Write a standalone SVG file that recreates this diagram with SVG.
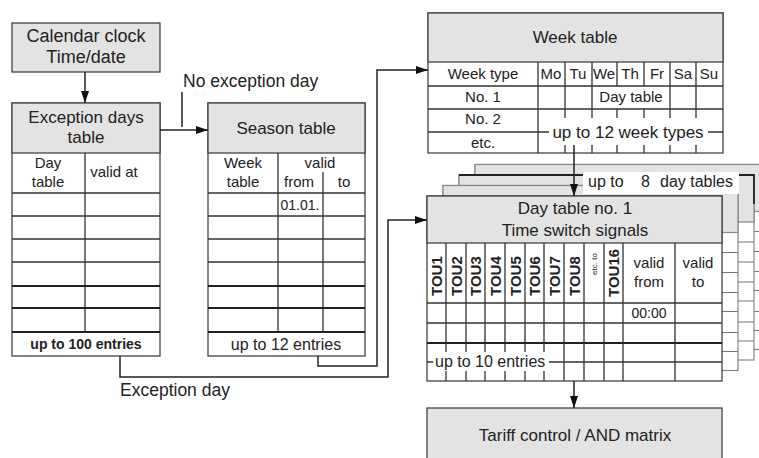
<svg xmlns="http://www.w3.org/2000/svg" width="759" height="458" viewBox="0 0 759 458">
<style>
.hd{fill:#e3e3e3;stroke:#444;stroke-width:1.3}
.bd{fill:#fff;stroke:#444;stroke-width:1.3}
.ln{stroke:#333;stroke-width:1.3;fill:none}
.thk{stroke:#222;stroke-width:1.8;fill:none}
.bk{fill:#fff;stroke:#888;stroke-width:1.2}
.bkh{fill:#e3e3e3;stroke:#888;stroke-width:1.2}
.bkl{stroke:#777;stroke-width:1.2;fill:none}
.conn{stroke:#222;stroke-width:1.5;fill:none}
text{font-family:"Liberation Sans",Arial,sans-serif;fill:#222}
.c{text-anchor:middle}
.h{font-size:17px}
.s{font-size:15px}
.tou{font-size:15px;font-weight:bold}
</style>
<defs>
<marker id="ar" markerWidth="12" markerHeight="8" refX="12" refY="4" orient="auto" markerUnits="userSpaceOnUse">
<path d="M0,0 L12,4 L0,8 Z" fill="#111"/>
</marker>
</defs>

<g id="calendar-clock">
<rect class="hd" x="12" y="23" width="148" height="49"/>
<text class="c" x="86" y="42" font-size="18">Calendar clock</text>
<text class="c" x="86" y="63" font-size="18">Time/date</text>
</g>

<g id="exception-days-table">
<rect class="bd" x="12" y="103" width="148" height="253"/>
<rect class="hd" x="12" y="103" width="148" height="50"/>
<text class="c h" x="86" y="123">Exception days</text>
<text class="c h" x="86" y="143">table</text>
<path class="ln" d="M85,153V332M12,193H160M12,216H160M12,239H160M12,262H160"/>
<path class="thk" d="M12,286H160M12,308H160M12,332H160"/>
<text class="c s" x="48" y="168">Day</text>
<text class="c s" x="48" y="187">table</text>
<text class="c s" x="114" y="177">valid at</text>
<text class="c" x="86" y="349" font-size="14" font-weight="bold">up to 100 entries</text>
</g>

<g id="season-table">
<rect class="bd" x="208" y="103" width="157" height="253"/>
<rect class="hd" x="208" y="103" width="157" height="50"/>
<text class="c h" x="286" y="134">Season table</text>
<path class="ln" d="M278,153V332M323,172V332M208,193H365M208,216H365M208,239H365M208,262H365"/>
<path class="thk" d="M208,286H365M208,308H365M208,332H365"/>
<text class="c s" x="243" y="168">Week</text>
<text class="c s" x="243" y="187">table</text>
<text class="c s" x="320" y="168">valid</text>
<text class="c s" x="299" y="187">from</text>
<text class="c s" x="344" y="187">to</text>
<text class="c" x="300" y="210" font-size="14">01.01.</text>
<text class="c" x="286" y="350" font-size="16">up to 12 entries</text>
</g>

<g id="week-table">
<rect class="bd" x="428" y="13" width="295" height="140"/>
<rect class="hd" x="428" y="13" width="295" height="49"/>
<text class="c h" x="575" y="43">Week table</text>
<path class="ln" d="M428,86H723M428,109H723M428,132H549M708,132H723"/>
<path class="ln" d="M538,62V153M565,62V109M592,62V109M617,62V86M644,62V86M670,62V109M696,62V109"/>
<path class="ln" d="M565,109V118M592,109V118M617,109V118M644,109V118M670,109V118M696,109V118"/>
<path class="ln" d="M565,145V153M592,145V153M617,145V153M644,145V153M670,145V153M696,145V153"/>
<text class="c s" x="483" y="79">Week type</text>
<text class="c s" x="551" y="79">Mo</text>
<text class="c s" x="578" y="79">Tu</text>
<text class="c s" x="604" y="79">We</text>
<text class="c s" x="630" y="79">Th</text>
<text class="c s" x="657" y="79">Fr</text>
<text class="c s" x="683" y="79">Sa</text>
<text class="c s" x="709" y="79">Su</text>
<text class="c s" x="483" y="102">No. 1</text>
<text class="c s" x="631" y="102">Day table</text>
<text class="c s" x="483" y="124">No. 2</text>
<text class="c s" x="483" y="148">etc.</text>
<text class="c h" x="628" y="138">up to 12 week types</text>
</g>

<g id="day-tables-stack">
<g transform="translate(48,-31.5)">
<rect class="bk" x="427" y="196" width="295" height="185"/>
<rect class="bkh" x="427" y="196" width="295" height="47"/>
<path class="bkl" d="M675,243V381M623,243V381M675,263H722M675,283H722M675,303H722M675,322H722M675,343H722M675,362H722"/>
</g>
<g transform="translate(32,-21)">
<rect class="bk" x="427" y="196" width="295" height="185"/>
<rect class="bkh" x="427" y="196" width="295" height="47"/>
<path class="bkl" d="M675,243V381M623,243V381M675,263H722M675,283H722M675,303H722M675,322H722M675,343H722M675,362H722"/>
<path class="thk" d="M427,196H722V225"/>
</g>
<g transform="translate(16,-10.5)">
<rect class="bk" x="427" y="196" width="295" height="185"/>
<rect class="bkh" x="427" y="196" width="295" height="47"/>
<path class="bkl" d="M675,243V381M623,243V381M675,263H722M675,283H722M675,303H722M675,322H722M675,343H722M675,362H722"/>
</g>
<rect x="583" y="172" width="156" height="22" fill="#fff"/>
<text font-size="16" x="588" y="187">up to <tspan x="641">8</tspan> <tspan x="660">day tables</tspan></text>
</g>

<g id="day-table-1">
<rect class="bd" x="427" y="196" width="295" height="185"/>
<rect class="hd" x="427" y="196" width="295" height="47"/>
<text class="c h" x="575" y="214">Day table no. 1</text>
<text class="c h" x="575" y="236">Time switch signals</text>
<path class="ln" d="M446,243V352M466,243V352M485,243V352M505,243V352M525,243V352M544,243V352"/>
<path class="ln" d="M446,371V381M466,371V381M485,371V381M505,371V381M525,371V381M544,371V381"/>
<path class="ln" d="M564,243V381M584,243V381M604,243V381M623,243V381M675,243V381"/>
<path class="ln" d="M427,303H722M427,323H722M427,362H433M549,362H722"/>
<path class="thk" d="M427,343H722"/>
<text class="tou" transform="translate(442,296) rotate(-90)">TOU1</text>
<text class="tou" transform="translate(461.5,296) rotate(-90)">TOU2</text>
<text class="tou" transform="translate(481,296) rotate(-90)">TOU3</text>
<text class="tou" transform="translate(500.5,296) rotate(-90)">TOU4</text>
<text class="tou" transform="translate(520.5,296) rotate(-90)">TOU5</text>
<text class="tou" transform="translate(540,296) rotate(-90)">TOU6</text>
<text class="tou" transform="translate(559.5,296) rotate(-90)">TOU7</text>
<text class="tou" transform="translate(579.5,296) rotate(-90)">TOU8</text>
<text class="c" font-size="8" transform="translate(596.5,264) rotate(-90)">etc. to</text>
<text class="tou" transform="translate(619,297) rotate(-90)">TOU16</text>
<text class="c s" x="649" y="268">valid</text>
<text class="c s" x="649" y="287">from</text>
<text class="c s" x="698" y="268">valid</text>
<text class="c s" x="698" y="287">to</text>
<text class="c" x="649" y="318" font-size="14">00:00</text>
<text font-size="16" x="435" y="367">up to 10 entries</text>
</g>

<g id="tariff-control">
<rect class="hd" x="427" y="408" width="295" height="60"/>
<text class="c h" x="575" y="441">Tariff control / AND matrix</text>
</g>

<g id="connectors">
<path class="conn" d="M85,72V103" marker-end="url(#ar)"/>
<path class="conn" d="M160,130H208" marker-end="url(#ar)"/>
<path class="conn" d="M182,92V127"/>
<path class="conn" d="M318,356V366H377V70H428" marker-end="url(#ar)"/>
<path class="conn" d="M120,356V377H388V220H427" marker-end="url(#ar)"/>
<path class="conn" d="M574,145V196" marker-end="url(#ar)"/>
<path class="conn" d="M574,381V408" marker-end="url(#ar)"/>
</g>
<text x="183" y="87" font-size="17.5">No exception day</text>
<text x="120" y="396" font-size="17.5">Exception day</text>
</svg>
